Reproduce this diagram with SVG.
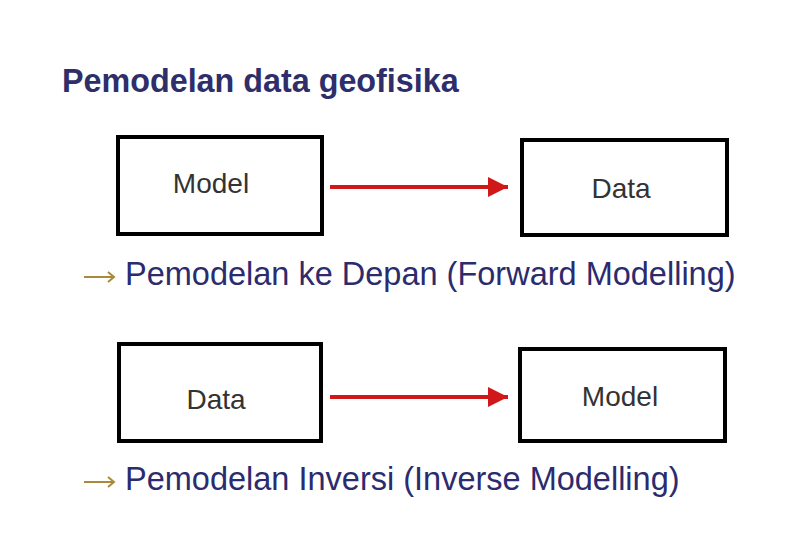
<svg xmlns="http://www.w3.org/2000/svg" width="791" height="548" viewBox="0 0 791 548">
<defs>
<marker id="ah" viewBox="0 0 10 10" refX="10" refY="5" markerWidth="5.5" markerHeight="5" markerUnits="strokeWidth" orient="auto">
<path d="M0,0 L10,5 L0,10 z" fill="#d01818"/>
</marker>
<style>
.box{fill:#ffffff;stroke:#000000;stroke-width:4}
.lbl{font-family:"Liberation Sans",Arial,sans-serif;font-size:28px;fill:#333333;text-anchor:middle}
.cap{font-family:"Liberation Sans",Arial,sans-serif;font-size:32.5px;fill:#2b2b6e}
.title{font-family:"Liberation Sans",Arial,sans-serif;font-size:32.3px;font-weight:bold;fill:#2e2e6a}
.conn{stroke:#d01818;stroke-width:4;fill:none}
.bul{stroke:#a88a3a;stroke-width:2;fill:none}
</style>
</defs>
<rect width="791" height="548" fill="#ffffff"/>
<text class="title" x="62" y="92">Pemodelan data geofisika</text>
<g id="model1"><rect class="box" x="118" y="137" width="204" height="97"/><text class="lbl" x="211" y="193">Model</text></g>
<g id="data1"><rect class="box" x="522" y="140" width="205" height="95"/><text class="lbl" x="621" y="198">Data</text></g>
<g id="data2"><rect class="box" x="119" y="344" width="202" height="97"/><text class="lbl" x="216" y="409">Data</text></g>
<g id="model2"><rect class="box" x="520" y="349" width="205" height="92"/><text class="lbl" x="620" y="406">Model</text></g>
<g id="connectors">
<line class="conn" x1="330" y1="187" x2="508" y2="187" marker-end="url(#ah)"/>
<line class="conn" x1="330" y1="397" x2="508" y2="397" marker-end="url(#ah)"/>
</g>
<g id="cap1">
<path class="bul" d="M84,277 H114 M108,272 L114,277 L108,282"/>
<text class="cap" x="125" y="285">Pemodelan ke Depan (Forward Modelling)</text>
</g>
<g id="cap2">
<path class="bul" d="M84,482 H114 M108,477 L114,482 L108,487"/>
<text class="cap" x="125" y="490">Pemodelan Inversi (Inverse Modelling)</text>
</g>
</svg>
